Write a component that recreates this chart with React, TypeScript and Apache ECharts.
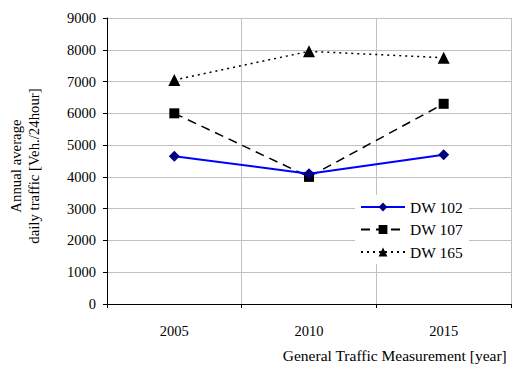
import React, { useEffect, useRef } from "react";
import * as echarts from "echarts";

const years = ["2005", "2010", "2015"];
const dw102 = [4650, 4100, 4700];
const dw107 = [6000, 4000, 6300];
const dw165 = [7050, 7950, 7750];

const FONT = "'Liberation Serif', 'Times New Roman', serif";

export default function App() {
  const ref = useRef<HTMLDivElement>(null);
  useEffect(() => {
    if (!ref.current) return;
    const chart = echarts.init(ref.current, null, { renderer: "svg" });
    chart.setOption({
      animation: false,
      backgroundColor: "#fff",
      textStyle: { fontFamily: FONT, color: "#000" },
      grid: { left: 107, right: 9, top: 18, bottom: 75, containLabel: false, outerBoundsMode: "none" },
      legend: {
        orient: "vertical",
        left: 355,
        top: 195,
        padding: [4, 6, 4, 5],
        backgroundColor: "#fff",
        itemWidth: 44,
        itemHeight: 11,
        itemGap: 6.5,
        textStyle: { fontFamily: FONT, fontSize: 15.5, color: "#000" },
        data: ["DW 102", "DW 107", "DW 165"],
      },
      xAxis: {
        type: "category",
        data: years,
        boundaryGap: true,
        axisLine: { lineStyle: { color: "#000", width: 1 } },
        axisTick: { show: true, length: 4, lineStyle: { color: "#000" } },
        axisLabel: { fontFamily: FONT, fontSize: 14.5, color: "#000", margin: 19 },
        splitLine: { show: true, lineStyle: { color: "#c0c0c0", width: 1 } },
      },
      yAxis: {
        type: "value",
        min: 0,
        max: 9000,
        interval: 1000,
        axisLine: { show: true, lineStyle: { color: "#000", width: 1 } },
        axisTick: { show: true, length: 4, lineStyle: { color: "#000" } },
        axisLabel: {
          fontFamily: FONT,
          fontSize: 14.5,
          color: "#000",
          margin: 11,
          formatter: (v: number) => String(v),
        },
        splitLine: { show: true, lineStyle: { color: "#c0c0c0", width: 1 } },
      },
      graphic: [
        {
          type: "text",
          x: 25,
          y: 166,
          rotation: Math.PI / 2,
          style: {
            text: "Annual average\ndaily traffic [Veh./24hour]",
            fontFamily: FONT,
            fontSize: 14.8,
            lineHeight: 18,
            fill: "#000",
            align: "center",
            verticalAlign: "middle",
          },
        },
        {
          type: "text",
          right: 13,
          top: 347,
          style: {
            text: "General Traffic Measurement [year]",
            fontFamily: FONT,
            fontSize: 15.5,
            fill: "#000",
          },
        },
      ],
      series: [
        {
          name: "DW 102",
          type: "line",
          data: dw102,
          symbol: "diamond",
          symbolSize: 11,
          itemStyle: { color: "#000080" },
          lineStyle: { color: "#0000ff", width: 2 },
          z: 4,
        },
        {
          name: "DW 107",
          type: "line",
          data: dw107,
          symbol: "rect",
          symbolSize: 10,
          itemStyle: { color: "#000" },
          lineStyle: { color: "#000", width: 1.5, type: [9, 6] },
          z: 3,
        },
        {
          name: "DW 165",
          type: "line",
          data: dw165,
          symbol: "triangle",
          symbolSize: 12,
          itemStyle: { color: "#000" },
          lineStyle: { color: "#000", width: 1.5, type: [2, 4] },
          z: 2,
        },
      ],
    });
    return () => chart.dispose();
  }, []);
  return <div ref={ref} style={{ width: 520, height: 379, position: "absolute", left: 0, top: 0 }} />;
}
